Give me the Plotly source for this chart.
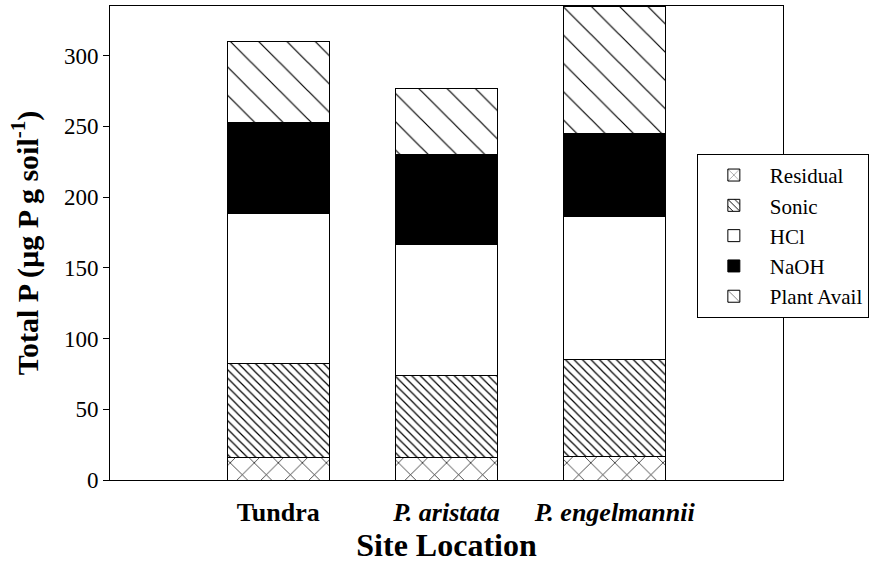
import plotly.graph_objects as go

sites = ["<b>Tundra</b>", "<b><i>P. aristata</i></b>", "<b><i>P. engelmannii</i></b>"]
fractions = ["Residual", "Sonic", "HCl", "NaOH", "Plant Avail"]
residual = [16.0, 16.0, 16.7]
sonic = [66.3, 57.6, 68.3]
hcl = [105.9, 92.7, 101.3]
naoh = [64.7, 63.5, 58.7]
plant_avail = [57.1, 47.2, 90.0]
yticks = [0, 50, 100, 150, 200, 250, 300]

series = [residual, sonic, hcl, naoh, plant_avail]
styles = [
    dict(color="white", pattern=dict(shape="x", size=17, solidity=0.08, fgcolor="black", bgcolor="white", fgopacity=1)),
    dict(color="white", pattern=dict(shape="\\", size=6, solidity=0.2, fgcolor="black", bgcolor="white", fgopacity=1)),
    dict(color="white"),
    dict(color="black"),
    dict(color="white", pattern=dict(shape="\\", size=20, solidity=0.06, fgcolor="black", bgcolor="white", fgopacity=1)),
]

x = [0, 1, 2]
fig = go.Figure()
for name, vals, st in zip(fractions, series, styles):
    fig.add_trace(go.Bar(
        x=x, y=vals, name=name, width=0.607,
        marker=dict(line=dict(color="black", width=1), **st),
    ))

font = "Liberation Serif, Times New Roman, serif"
fig.update_layout(
    barmode="stack",
    width=885, height=563,
    margin=dict(l=110, r=102, t=6, b=83),
    paper_bgcolor="white", plot_bgcolor="white",
    font=dict(family=font, color="black", size=22),
    showlegend=True,
    legend=dict(
        x=0.872, y=0.688, xanchor="left", yanchor="top",
        traceorder="normal", bgcolor="white",
        bordercolor="black", borderwidth=1,
        font=dict(family=font, size=21, color="black"),
        itemwidth=62, tracegroupgap=0,
    ),
    xaxis=dict(
        range=[-1, 3], tickmode="array", tickvals=x, ticktext=sites,
        showline=True, linecolor="black", linewidth=1, mirror=True,
        ticks="", showgrid=False, zeroline=False, automargin=False,
        tickfont=dict(family=font, size=26), ticklabelstandoff=9,
        title=dict(text="<b>Site Location</b>", font=dict(family=font, size=32), standoff=8),
    ),
    yaxis=dict(
        range=[0, 335], tickmode="array", tickvals=yticks,
        showline=True, linecolor="black", linewidth=1, mirror=True,
        ticks="outside", ticklen=6, tickcolor="black",
        showgrid=False, zeroline=False, automargin=False,
        tickfont=dict(family=font, size=23),
        title=dict(text="<b>Total P (µg P g soil<sup>-1</sup>)</b>", font=dict(family=font, size=30), standoff=16),
    ),
)

fig.write_html("out.html", config={"displayModeBar": False},
               post_script="document.body.style.margin='0px';document.body.style.padding='0px';")
